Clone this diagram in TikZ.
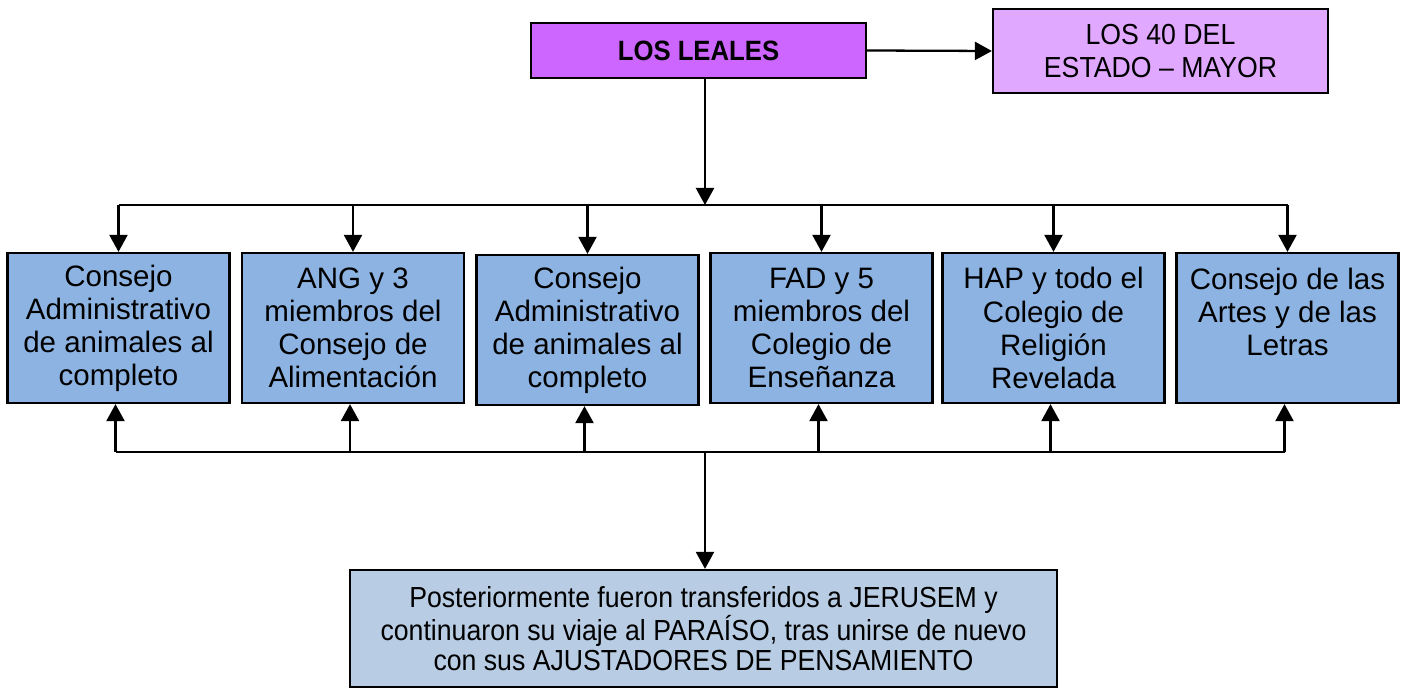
\documentclass[tikz,border=0pt]{standalone}
\usepackage{fontspec}
\setmainfont{Liberation Sans}
\newfontfamily\narrowfont[FakeStretch=0.92]{Liberation Sans}
\usetikzlibrary{arrows.meta}

\definecolor{lealfill}{HTML}{CC66FF}
\definecolor{fortyfill}{HTML}{E1A8FF}
\definecolor{groupfill}{HTML}{8DB3E2}
\definecolor{finalfill}{HTML}{B8CCE4}

\tikzset{
    box/.style={draw, line width=1.3pt, align=center, inner sep=0pt},
    group/.style={box, fill=groupfill, minimum width=4.44cm, minimum height=3cm,
        font=\fontsize{16.8}{18.8}\selectfont},
    arr/.style={line width=1.3pt, -{Triangle[length=0.34cm, width=0.36cm]}},
    bus/.style={line width=1.3pt}
}

\begin{document}
\begin{tikzpicture}[x=0.02cm, y=-0.02cm]

    \useasboundingbox (0, 0) rectangle (1401, 688);

    %% Top row

    % Loyal ones
    \node [box, fill=lealfill, minimum width=6.7cm, minimum height=1.1cm,
        font=\narrowfont\bfseries\fontsize{15.9}{18}\selectfont]
        (leales) at (698.5, 50.5) {LOS LEALES};

    % The forty
    \node [box, fill=fortyfill, minimum width=6.7cm, minimum height=1.68cm,
        font=\narrowfont\fontsize{16.5}{19.3}\selectfont]
        (forty) at (1160.5, 51) {LOS 40 DEL\\ESTADO – MAYOR};

    \draw[arr] (leales.east) -- (forty.west);

    %% Groups

    \node [group] (b1) at (118.5, 328) {Consejo\\Administrativo\\de animales al\\completo};
    \node [group] (b2) at (353, 328) {ANG y 3\\miembros del\\Consejo de\\Alimentación};
    \node [group] (b3) at (587.5, 330) {Consejo\\Administrativo\\de animales al\\completo};
    \node [group] (b4) at (821.5, 328) {FAD y 5\\miembros del\\Colegio de\\Enseñanza};
    \node [group] (b5) at (1053.5, 328) {HAP y todo el\\Colegio de\\Religión\\Revelada};
    \node [group] (b6) at (1287.5, 328) {Consejo de las\\Artes y de las\\Letras\\\mbox{}};

    % Upper bus
    \coordinate (top) at (705, 205);
    \draw[arr] (leales.south -| top) -- (top);
    \draw[bus] (top -| b1) -- (top -| b6);
    \foreach \i in {1,...,6}
        \draw[arr] (top -| b\i) -- (b\i.north);

    %% Bottom

    % Final box
    \node [box, fill=finalfill, minimum width=14.14cm, minimum height=2.34cm,
        font=\narrowfont\fontsize{16.5}{17.4}\selectfont]
        (final) at (703.5, 628.5)
        {Posteriormente fueron transferidos a JERUSEM y\\continuaron su viaje al PARAÍSO, tras unirse de nuevo\\con sus AJUSTADORES DE PENSAMIENTO};

    % Lower bus
    \coordinate (bot) at (705, 452);
    \draw[bus] ([xshift=-0.06cm] bot -| b1) -- ([xshift=-0.06cm] bot -| b6);
    \foreach \i in {1,...,6}
        \draw[arr] ([xshift=-0.06cm] bot -| b\i) -- ([xshift=-0.06cm] b\i.south);
    \draw[arr] (bot) -- (bot |- final.north);

\end{tikzpicture}
\end{document}
